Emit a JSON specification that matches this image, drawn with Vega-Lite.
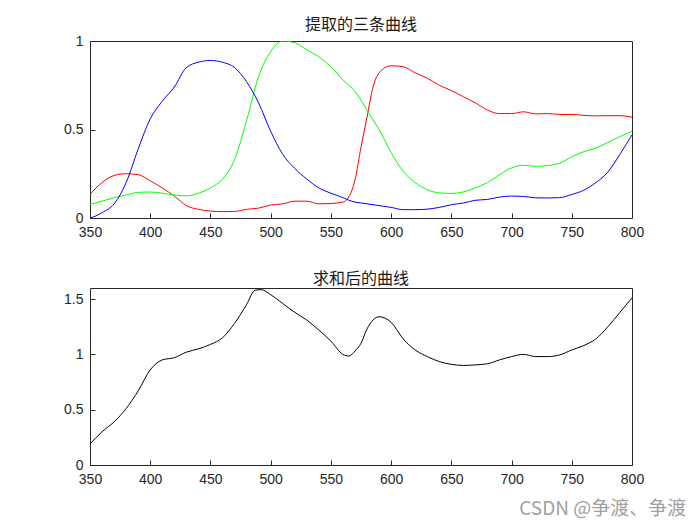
{
  "$schema": "https://vega.github.io/schema/vega-lite/v6.json",
  "autosize": {"type": "pad"},
  "padding": {"left": 63, "top": 16, "right": 5, "bottom": 5},
  "background": "white",
  "spacing": 70,
  "bounds": "flush",
  "config": {
    "view": {"stroke": "#262626", "strokeWidth": 1},
    "axis": {
      "grid": false,
      "domain": false,
      "tickSize": -5,
      "tickColor": "#262626",
      "labelFont": "Liberation Sans",
      "labelFontSize": 14,
      "labelColor": "#262626",
      "labelFlush": false,
      "title": null
    },
    "axisX": {"labelPadding": 12},
    "axisY": {"labelPadding": 12},
    "title": {"font": "Noto Sans CJK SC", "fontSize": 16, "fontWeight": "normal", "color": "#1a1a1a", "offset": 1}
  },
  "title": {"text": "CSDN @争渡、争渡", "orient": "bottom", "anchor": "end", "color": "#a0a0a0", "fontSize": 19, "font": "Noto Sans CJK SC", "fontWeight": "normal", "offset": 13, "dx": 42},
  "datasets": {
    "rgb": [
      {"nm": 350, "r": 0.133, "g": 0.077, "b": 0.0},
      {"nm": 355, "r": 0.17, "g": 0.086, "b": 0.012},
      {"nm": 360, "r": 0.2, "g": 0.095, "b": 0.03},
      {"nm": 370, "r": 0.24, "g": 0.115, "b": 0.08},
      {"nm": 380, "r": 0.25, "g": 0.13, "b": 0.2},
      {"nm": 390, "r": 0.245, "g": 0.145, "b": 0.39},
      {"nm": 400, "r": 0.21, "g": 0.147, "b": 0.56},
      {"nm": 410, "r": 0.17, "g": 0.14, "b": 0.66},
      {"nm": 420, "r": 0.124, "g": 0.13, "b": 0.74},
      {"nm": 430, "r": 0.07, "g": 0.125, "b": 0.85},
      {"nm": 440, "r": 0.049, "g": 0.14, "b": 0.88},
      {"nm": 450, "r": 0.039, "g": 0.17, "b": 0.89},
      {"nm": 460, "r": 0.036, "g": 0.22, "b": 0.88},
      {"nm": 470, "r": 0.037, "g": 0.33, "b": 0.85},
      {"nm": 480, "r": 0.049, "g": 0.55, "b": 0.77},
      {"nm": 490, "r": 0.056, "g": 0.8, "b": 0.65},
      {"nm": 500, "r": 0.073, "g": 0.94, "b": 0.49},
      {"nm": 510, "r": 0.08, "g": 1.0, "b": 0.36},
      {"nm": 520, "r": 0.095, "g": 0.99, "b": 0.28},
      {"nm": 530, "r": 0.095, "g": 0.95, "b": 0.22},
      {"nm": 540, "r": 0.08, "g": 0.91, "b": 0.17},
      {"nm": 550, "r": 0.082, "g": 0.855, "b": 0.14},
      {"nm": 560, "r": 0.09, "g": 0.78, "b": 0.115},
      {"nm": 565, "r": 0.12, "g": 0.75, "b": 0.1},
      {"nm": 570, "r": 0.215, "g": 0.715, "b": 0.09},
      {"nm": 575, "r": 0.4, "g": 0.665, "b": 0.085},
      {"nm": 580, "r": 0.57, "g": 0.61, "b": 0.08},
      {"nm": 585, "r": 0.74, "g": 0.555, "b": 0.075},
      {"nm": 590, "r": 0.82, "g": 0.5, "b": 0.07},
      {"nm": 600, "r": 0.86, "g": 0.37, "b": 0.06},
      {"nm": 610, "r": 0.855, "g": 0.264, "b": 0.047},
      {"nm": 620, "r": 0.82, "g": 0.2, "b": 0.047},
      {"nm": 630, "r": 0.79, "g": 0.16, "b": 0.05},
      {"nm": 640, "r": 0.75, "g": 0.142, "b": 0.06},
      {"nm": 650, "r": 0.72, "g": 0.139, "b": 0.075},
      {"nm": 660, "r": 0.685, "g": 0.147, "b": 0.085},
      {"nm": 670, "r": 0.65, "g": 0.17, "b": 0.1},
      {"nm": 680, "r": 0.61, "g": 0.2, "b": 0.105},
      {"nm": 690, "r": 0.59, "g": 0.245, "b": 0.118},
      {"nm": 700, "r": 0.59, "g": 0.283, "b": 0.124},
      {"nm": 710, "r": 0.6, "g": 0.298, "b": 0.122},
      {"nm": 720, "r": 0.588, "g": 0.292, "b": 0.114},
      {"nm": 730, "r": 0.59, "g": 0.296, "b": 0.113},
      {"nm": 740, "r": 0.585, "g": 0.31, "b": 0.115},
      {"nm": 750, "r": 0.585, "g": 0.345, "b": 0.133},
      {"nm": 760, "r": 0.58, "g": 0.375, "b": 0.157},
      {"nm": 770, "r": 0.577, "g": 0.395, "b": 0.2},
      {"nm": 780, "r": 0.578, "g": 0.427, "b": 0.26},
      {"nm": 790, "r": 0.578, "g": 0.46, "b": 0.36},
      {"nm": 800, "r": 0.57, "g": 0.49, "b": 0.47}
    ],
    "sum": [
      {"nm": 350, "s": 0.19},
      {"nm": 360, "s": 0.3},
      {"nm": 370, "s": 0.39},
      {"nm": 380, "s": 0.51},
      {"nm": 390, "s": 0.67},
      {"nm": 400, "s": 0.86},
      {"nm": 410, "s": 0.95},
      {"nm": 420, "s": 0.97},
      {"nm": 430, "s": 1.02},
      {"nm": 440, "s": 1.05},
      {"nm": 450, "s": 1.09},
      {"nm": 460, "s": 1.15},
      {"nm": 470, "s": 1.28},
      {"nm": 480, "s": 1.45},
      {"nm": 487, "s": 1.58},
      {"nm": 492, "s": 1.585},
      {"nm": 500, "s": 1.54},
      {"nm": 510, "s": 1.46},
      {"nm": 520, "s": 1.38},
      {"nm": 530, "s": 1.31},
      {"nm": 540, "s": 1.22},
      {"nm": 550, "s": 1.12},
      {"nm": 560, "s": 1.0},
      {"nm": 565, "s": 0.985},
      {"nm": 570, "s": 1.03},
      {"nm": 575, "s": 1.1},
      {"nm": 580, "s": 1.23},
      {"nm": 590, "s": 1.34},
      {"nm": 600, "s": 1.29},
      {"nm": 610, "s": 1.14},
      {"nm": 620, "s": 1.04},
      {"nm": 630, "s": 0.98},
      {"nm": 640, "s": 0.935},
      {"nm": 650, "s": 0.91},
      {"nm": 660, "s": 0.9},
      {"nm": 670, "s": 0.905},
      {"nm": 680, "s": 0.915},
      {"nm": 690, "s": 0.95},
      {"nm": 700, "s": 0.98},
      {"nm": 710, "s": 1.0},
      {"nm": 720, "s": 0.98},
      {"nm": 730, "s": 0.98},
      {"nm": 740, "s": 0.995},
      {"nm": 750, "s": 1.04},
      {"nm": 760, "s": 1.08},
      {"nm": 770, "s": 1.14},
      {"nm": 780, "s": 1.25},
      {"nm": 790, "s": 1.38},
      {"nm": 800, "s": 1.51}
    ]
  },
  "vconcat": [
    {
      "width": 542,
      "height": 177,
      "title": {"text": "提取的三条曲线"},
      "data": {"name": "rgb"},
      "transform": [{"fold": ["r", "g", "b"], "as": ["curve", "value"]}],
      "mark": {"type": "line", "strokeWidth": 1, "clip": true, "interpolate": "monotone"},
      "encoding": {
        "x": {"field": "nm", "type": "quantitative", "scale": {"domain": [350, 800], "nice": false, "zero": false}, "axis": {"values": [350, 400, 450, 500, 550, 600, 650, 700, 750, 800], "format": "d"}},
        "y": {"field": "value", "type": "quantitative", "scale": {"domain": [0, 1], "nice": false}, "axis": {"values": [0, 0.5, 1], "format": "~g"}},
        "color": {"field": "curve", "type": "nominal", "scale": {"domain": ["r", "g", "b"], "range": ["#ff0000", "#00ff00", "#0000ff"]}, "legend": null}
      }
    },
    {
      "width": 542,
      "height": 177,
      "title": {"text": "求和后的曲线"},
      "data": {"name": "sum"},
      "mark": {"type": "line", "strokeWidth": 1, "color": "#000000", "clip": true, "interpolate": "monotone"},
      "encoding": {
        "x": {"field": "nm", "type": "quantitative", "scale": {"domain": [350, 800], "nice": false, "zero": false}, "axis": {"values": [350, 400, 450, 500, 550, 600, 650, 700, 750, 800], "format": "d"}},
        "y": {"field": "s", "type": "quantitative", "scale": {"domain": [0, 1.6], "nice": false}, "axis": {"values": [0, 0.5, 1, 1.5], "format": "~g"}}
      }
    }
  ]
}
